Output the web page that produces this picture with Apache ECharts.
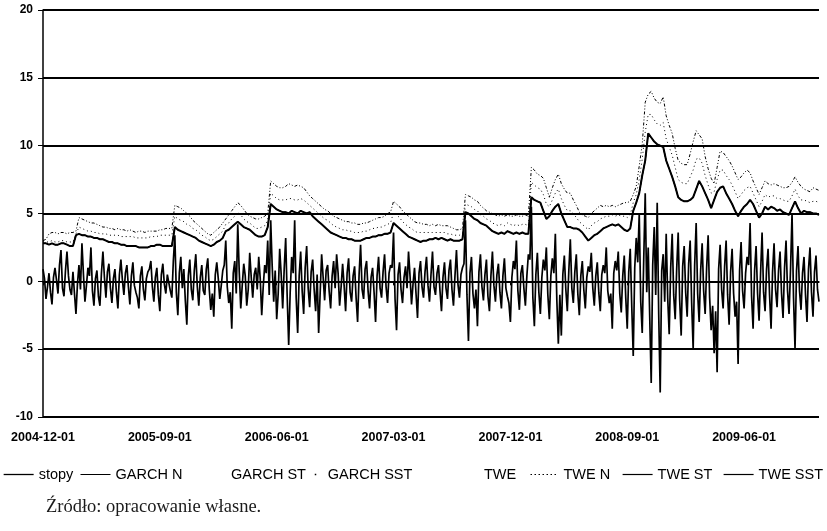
<!DOCTYPE html>
<html>
<head>
<meta charset="utf-8">
<script src="https://cdn.jsdelivr.net/npm/echarts@6/dist/echarts.min.js"></script>
<style>html,body{margin:0;padding:0;background:#fff}#c{width:827px;height:531px}</style>
</head>
<body>
<div id="c"></div>
<script>
// Tick labels on the date axis
var tickLabels = ['2004-12-01','2005-09-01','2006-06-01','2007-03-01','2007-12-01','2008-09-01','2009-06-01'];
var pointsPerTick = 78;   // half-week steps between tick dates
var pointCount = 519;

// Returns (stopy), half-week steps
var stopy = [
0.9,0.2,-1.3,-0.4,0.6,-0.8,-1.7,0.3,1.0,0.1,-0.9,1.2,2.3,-0.5,-1.1,0.8,2.2,0.4,-0.6,-1.0,
0.7,-0.9,-2.4,-0.2,1.2,-0.6,2.8,0.5,-1.5,-0.3,1.0,0.4,2.5,-0.7,-1.8,0.2,0.8,-1.1,-1.8,0.6,
2.2,0.3,-1.2,0.7,1.3,-0.5,-1.6,0.2,0.9,-0.8,-2.0,0.5,1.6,0.1,-1.0,0.6,1.2,-0.4,-1.7,0.4,
1.4,-0.3,-0.8,-1.2,-2.0,0.4,1.1,-0.6,-1.4,0.2,0.7,0.9,1.5,-0.4,-1.5,0.3,1.0,-1.0,-2.2,0.5,
1.3,-0.2,-0.9,0.5,0.6,-0.7,-1.2,1.5,3.4,-0.8,-2.5,0.6,1.8,-0.5,0.9,-1.4,-3.2,0.4,1.6,-0.6,
-1.4,0.8,2.0,-0.4,-1.8,0.3,1.2,-0.7,-1.0,0.9,1.7,-0.6,-2.1,-0.9,-2.6,0.5,1.4,0.2,-1.3,-0.3,
0.8,1.2,3.0,-0.4,-1.6,-0.8,-3.5,0.6,1.5,-0.9,4.2,0.7,-2.0,-0.3,1.3,0.4,-1.8,-0.6,2.1,0.3,
-1.2,0.5,1.0,-0.6,1.8,0.2,-2.5,-0.4,1.2,0.6,3.0,-1.0,4.5,1.1,-1.5,0.8,-2.8,-0.9,2.4,0.5,
-2.0,0.9,3.2,-1.1,-4.7,-0.8,1.8,0.6,4.5,-1.2,-3.8,0.4,2.2,-0.7,-2.4,1.0,2.6,-0.5,-1.9,0.7,
1.6,-0.6,-2.2,0.5,-3.8,-0.9,2.0,0.3,-1.4,0.8,1.2,-0.7,-2.0,0.4,1.5,-0.5,2.0,0.6,-1.8,-0.4,
1.3,-0.3,-2.2,0.6,1.7,-0.8,-1.5,0.4,1.1,-1.2,-3.0,0.5,2.7,-0.6,-1.3,0.9,1.5,-0.7,-2.0,0.3,
1.0,-0.8,-3.0,0.4,1.8,-0.5,-1.2,0.7,2.0,-0.4,-1.6,0.6,1.2,1.0,3.6,-1.3,-3.6,0.5,1.4,-0.6,
-1.6,0.3,1.1,-0.5,2.2,0.4,-1.7,-0.2,1.0,-0.9,-2.7,0.6,1.5,-0.4,-1.2,0.7,1.8,-0.3,-1.5,0.5,
2.2,-0.4,-1.0,0.6,1.2,-0.7,-2.2,0.3,1.4,-0.5,-1.3,0.8,1.6,-0.6,-1.8,0.4,2.3,-0.2,-1.2,0.5,
1.0,1.3,4.5,-1.0,-4.4,0.6,1.8,-0.9,-2.0,-0.6,-3.3,0.7,2.0,-0.4,-1.4,0.5,1.6,-1.1,-2.2,0.4,
2.2,-0.3,-1.5,0.5,1.3,-0.8,-2.0,0.4,1.7,-0.5,-1.1,-1.6,-3.0,0.3,1.5,0.9,3.0,-0.7,-2.1,0.6,
1.2,-0.5,-1.8,0.4,2.0,1.6,5.5,-1.2,-3.3,0.5,2.1,-0.8,-2.4,0.3,1.6,0.8,2.5,-1.0,-2.8,0.4,
1.7,0.6,3.5,-1.4,-4.6,-1.0,-4.0,0.5,1.9,-0.6,-2.2,0.8,3.1,-0.5,-1.6,0.7,2.0,-0.9,-2.5,0.4,
1.5,-0.6,-2.0,0.3,1.1,0.7,2.1,-0.5,-1.8,0.4,1.4,-0.8,-2.2,0.5,1.2,0.6,2.5,-0.7,-1.6,-0.9,
-3.5,0.6,1.5,0.8,2.2,-0.9,-2.3,0.4,1.9,-1.2,-3.5,0.7,2.4,-1.8,-5.5,1.0,3.2,1.4,5.0,-1.5,
-3.8,1.6,6.5,-0.8,2.5,-2.6,-7.5,1.2,4.0,-1.0,5.8,-2.4,-8.2,0.8,2.0,-1.5,3.5,-1.2,-3.9,1.0,
3.5,-1.0,-2.8,0.9,3.6,-1.4,-4.0,1.1,2.6,-0.8,-2.6,1.3,3.0,-1.6,-5.0,1.2,4.3,-0.9,-3.0,0.8,
2.8,-0.7,-2.4,1.0,3.4,-1.2,-3.6,-1.8,-5.3,-2.2,-6.7,0.9,2.7,-0.6,-2.0,1.1,3.0,-1.0,-3.2,0.7,
2.4,-0.9,-2.6,-1.5,-6.1,0.8,2.9,-0.7,-2.0,0.6,1.8,1.2,4.3,-1.1,-3.5,0.8,2.6,-0.9,-2.9,0.6,
3.6,-0.8,-2.2,0.9,2.4,-1.0,-3.5,0.7,2.8,-0.6,-1.9,0.8,2.2,-0.9,-2.7,1.0,3.0,-0.7,-2.4,0.9,
5.0,-1.2,-5.0,0.8,2.6,-0.7,-2.1,0.6,1.8,-1.0,-3.0,0.9,2.5,-0.8,-2.6,0.7,1.9,-0.6,-1.5
];

// Solid volatility line (weekly; TWE SST / TWE ST / GARCH N overlap)
var volSolid = [
2.8,2.8,2.7,2.8,2.7,2.7,2.8,2.8,2.7,2.6,
2.6,3.4,3.5,3.4,3.4,3.3,3.3,3.2,3.2,3.1,
3.1,3.0,2.9,2.9,2.8,2.8,2.7,2.7,2.6,2.6,
2.6,2.6,2.5,2.5,2.5,2.5,2.6,2.6,2.7,2.7,
2.6,2.6,2.6,2.6,4.0,3.8,3.7,3.6,3.5,3.4,
3.3,3.2,3.0,2.9,2.8,2.7,2.6,2.7,2.9,3.0,
3.2,3.7,3.8,4.0,4.2,4.4,4.2,4.0,3.9,3.8,
3.6,3.4,3.3,3.3,3.4,4.0,5.7,5.5,5.3,5.2,
5.1,5.1,5.0,5.2,5.1,5.0,5.2,5.1,5.0,5.1,
4.8,4.6,4.4,4.2,4.0,3.8,3.6,3.5,3.4,3.3,
3.2,3.2,3.1,3.1,3.0,3.0,3.0,3.1,3.2,3.2,
3.3,3.3,3.4,3.4,3.5,3.5,3.6,4.3,4.1,3.9,
3.7,3.5,3.3,3.2,3.1,3.0,2.9,3.0,3.0,3.1,
3.1,3.2,3.1,3.2,3.1,3.0,3.1,3.0,3.0,3.0,
3.1,5.1,5.0,4.8,4.6,4.5,4.3,4.2,4.1,3.9,
3.7,3.6,3.5,3.6,3.5,3.7,3.6,3.5,3.6,3.5,
3.6,3.5,3.5,6.2,6.0,5.9,5.8,5.2,4.6,4.8,
5.2,5.5,5.7,5.0,4.5,4.0,4.0,3.9,3.9,3.8,
3.6,3.3,3.0,3.2,3.4,3.5,3.7,3.9,4.0,4.1,
4.2,4.1,4.2,4.0,3.8,3.7,3.9,5.2,5.8,6.5,
7.8,8.9,10.9,10.6,10.3,10.1,10.0,9.9,8.9,8.3,
7.7,7.0,6.2,6.0,5.9,5.9,6.0,6.2,6.8,7.4,
7.0,6.5,6.0,5.4,6.0,6.6,6.9,7.0,6.5,6.1,
5.7,5.2,4.8,5.2,5.5,5.7,6.0,5.7,5.2,4.7,
5.0,5.5,5.3,5.5,5.4,5.2,5.3,5.1,5.0,4.9,
5.4,5.9,5.4,5.0,5.2,5.1,5.1,5.0,5.0,4.9
];

// Middle dotted volatility line (weekly; GARCH SST)
var volDotted = [
2.9,2.9,2.9,3.0,2.9,2.9,3.0,3.0,2.9,2.9,
2.9,3.5,4.0,3.9,3.8,3.7,3.7,3.6,3.6,3.5,
3.5,3.5,3.4,3.4,3.4,3.4,3.3,3.3,3.3,3.3,
3.3,3.2,3.2,3.2,3.2,3.2,3.3,3.3,3.3,3.4,
3.4,3.4,3.4,3.4,4.8,4.6,4.5,4.4,4.2,4.1,
3.9,3.8,3.6,3.4,3.3,3.1,3.0,3.1,3.3,3.5,
3.7,4.2,4.3,4.6,4.8,5.1,4.9,4.6,4.4,4.3,
4.1,3.9,3.9,4.0,4.1,4.5,6.5,6.3,6.1,6.0,
6.0,6.0,6.1,6.1,6.0,6.0,6.1,6.0,5.8,5.6,
5.4,5.2,5.0,4.8,4.6,4.5,4.3,4.1,4.0,3.9,
3.8,3.8,3.7,3.7,3.6,3.6,3.6,3.7,3.7,3.8,
3.9,3.9,4.0,4.0,4.1,4.2,4.3,5.1,4.9,4.7,
4.4,4.2,4.0,3.9,3.7,3.6,3.6,3.6,3.6,3.6,
3.6,3.6,3.6,3.6,3.6,3.5,3.5,3.4,3.4,3.4,
3.5,5.7,5.6,5.5,5.3,5.2,4.9,4.8,4.6,4.5,
4.3,4.2,4.1,4.2,4.1,4.3,4.2,4.1,4.2,4.1,
4.2,4.2,4.1,7.3,7.1,6.9,6.8,6.4,5.7,5.5,
6.0,6.5,6.8,6.1,5.6,5.2,5.2,5.0,4.7,4.4,
4.2,4.0,3.8,4.1,4.3,4.4,4.6,4.7,4.8,4.8,
4.9,4.8,4.9,4.8,4.8,4.7,4.9,5.8,6.4,7.5,
9.0,11.0,12.3,12.3,11.9,11.6,11.5,11.7,10.5,9.9,
9.3,8.4,7.5,7.3,7.2,7.2,7.7,8.2,9.0,9.1,
8.7,7.8,7.1,6.5,6.6,7.5,8.2,8.2,7.8,7.5,
7.1,6.6,6.1,6.4,6.7,6.9,7.0,6.5,6.0,5.5,
5.9,6.4,6.2,6.3,6.3,6.1,6.1,6.0,5.9,5.9,
6.3,6.8,6.3,6.0,6.0,5.9,5.8,5.9,5.9,5.8
];

// Upper dash-dot volatility line (weekly; TWE N)
var volUpper = [
3.0,3.1,3.5,3.6,3.6,3.5,3.6,3.6,3.5,3.6,
3.6,3.7,4.7,4.6,4.5,4.4,4.3,4.3,4.2,4.1,
4.0,4.0,3.9,3.9,3.8,3.9,3.8,3.8,3.7,3.8,
3.7,3.6,3.7,3.7,3.6,3.7,3.7,3.7,3.7,3.8,
3.8,3.9,3.9,3.9,5.6,5.5,5.4,5.2,5.0,4.8,
4.5,4.3,4.1,3.9,3.7,3.5,3.4,3.6,3.8,4.0,
4.3,4.6,4.9,5.2,5.5,5.8,5.6,5.3,5.0,4.8,
4.7,4.6,4.6,4.7,4.8,5.0,7.4,7.2,7.0,6.9,
6.9,7.0,7.2,7.1,7.0,7.1,7.0,6.9,6.6,6.3,
6.1,5.9,5.7,5.5,5.3,5.2,5.0,4.8,4.7,4.6,
4.5,4.4,4.4,4.3,4.3,4.2,4.2,4.3,4.3,4.4,
4.5,4.6,4.7,4.7,4.8,5.0,5.1,5.9,5.7,5.5,
5.2,5.0,4.8,4.6,4.4,4.3,4.3,4.2,4.2,4.1,
4.2,4.1,4.2,4.1,4.1,4.1,4.0,3.9,3.8,3.8,
3.9,6.4,6.3,6.2,6.0,5.9,5.6,5.4,5.2,5.1,
5.0,4.9,4.8,4.9,4.8,4.9,4.8,4.8,4.9,4.8,
4.8,4.9,4.8,8.4,8.2,7.9,7.8,7.6,6.9,6.2,
6.9,7.5,7.9,7.2,6.8,6.5,6.5,6.0,5.6,5.1,
4.9,4.8,4.7,5.0,5.2,5.4,5.6,5.5,5.6,5.5,
5.6,5.5,5.6,5.7,5.8,5.8,5.9,6.4,7.0,8.5,
10.1,13.2,13.8,14.0,13.5,13.2,13.1,13.6,12.2,11.5,
10.9,9.8,8.9,8.7,8.6,8.6,9.4,10.3,11.1,10.8,
10.5,9.2,8.3,7.6,7.2,8.4,9.6,9.5,9.2,8.9,
8.5,8.0,7.5,7.7,8.0,8.2,8.0,7.4,6.9,6.4,
6.9,7.4,7.2,7.1,7.2,7.1,7.0,6.9,6.9,7.0,
7.3,7.7,7.3,7.0,6.8,6.7,6.6,6.9,6.8,6.7
];

// Series -> value arrays (several series overlap in the picture)
var garchN = volSolid, garchST = volDotted, garchSST = volDotted;
var twe = volSolid, tweN = volUpper, tweST = volSolid, tweSST = volSolid;

// weekly arrays sit on every second half-week category
function weekly(arr){ return arr.map(function(v,i){ return [2*i, v]; }); }

// Category dates between the tick dates
function fmt(d){var m=d.getUTCMonth()+1, day=d.getUTCDate();return d.getUTCFullYear()+'-'+(m<10?'0':'')+m+'-'+(day<10?'0':'')+day;}
var DAY = 86400000;
var categories = [];
for (var k = 0; k < pointCount; k++) {
  var seg = Math.floor(k / pointsPerTick), off = k % pointsPerTick, d;
  if (seg < tickLabels.length - 1) {
    var a = Date.parse(tickLabels[seg] + 'T00:00:00Z'), b = Date.parse(tickLabels[seg+1] + 'T00:00:00Z');
    d = new Date(a + Math.round(off * (b - a) / pointsPerTick / DAY) * DAY);
  } else {
    var a2 = Date.parse(tickLabels[tickLabels.length-1] + 'T00:00:00Z');
    d = new Date(a2 + Math.round((k - pointsPerTick*(tickLabels.length-1)) * 3.5) * DAY);
  }
  categories.push(off === 0 && seg < tickLabels.length ? tickLabels[seg] : fmt(d));
}

var chart = echarts.init(document.getElementById('c'), null, {renderer:'canvas'});
function line(name, data, ls, z){
  return {name:name, type:'line', data:data, symbol:'none', showSymbol:false, animation:false,
    itemStyle:{color:'#000'}, lineStyle:ls, z:z||2, emphasis:{disabled:true}};
}
var legendPos = [['stopy',3],['GARCH N',80],['GARCH ST',195],['GARCH SST',292],['TWE',448],['TWE N',528],['TWE ST',622],['TWE SST',723]];
var legends = legendPos.map(function(p){
  var lg = {data:[p[0]], left:p[1], top:467, itemWidth:30, itemHeight:12, padding:0,
    itemStyle:{opacity:0},
    textStyle:{fontFamily:'Liberation Sans', fontSize:14.5, color:'#000'}, selectedMode:false};
  if (p[0] === 'GARCH SST') lg.lineStyle = {type:[1.5,60], dashOffset:-22, width:1.5};
  if (p[0] === 'TWE N') lg.lineStyle = {type:[1.5,2.5], width:1};
  if (p[0] === 'GARCH N') lg.lineStyle = {width:1};
  if (p[0] === 'TWE ST' || p[0] === 'TWE SST') lg.lineStyle = {width:1.2};
  if (p[0] === 'stopy') lg.lineStyle = {width:1.3};
  return lg;
});
chart.setOption({
  backgroundColor:'#fff',
  animation:false,
  grid:{left:43, right:8, top:10, bottom:114},
  legend: legends,
  title:{text:'Źródło: opracowanie własne.', left:41, top:493,
    textStyle:{fontFamily:'Liberation Serif', fontSize:18.5, fontWeight:'normal', color:'#1a1a1a'}},
  xAxis:{type:'category', data:categories, boundaryGap:false,
    axisLine:{lineStyle:{color:'#000', width:1.5}},
    axisTick:{interval:pointsPerTick-1, length:4, lineStyle:{color:'#000'}},
    axisLabel:{interval:pointsPerTick-1, margin:14, color:'#000', fontFamily:'Liberation Sans', fontWeight:'bold', fontSize:12.5},
    splitLine:{show:false}},
  yAxis:{type:'value', min:-10, max:20, interval:5,
    axisLine:{show:true, lineStyle:{color:'#000', width:1.5}},
    axisTick:{show:true, length:5, lineStyle:{color:'#000'}},
    axisLabel:{margin:10, color:'#000', fontFamily:'Liberation Sans', fontWeight:'bold', fontSize:12},
    splitLine:{lineStyle:{color:'#000', width:1.8}}},
  series:[
    line('stopy', stopy, {color:'#000', width:1.7}, 5),
    line('GARCH N', weekly(garchN), {color:'#000', width:1}, 3),
    line('GARCH ST', weekly(garchST), {color:'#000', width:1, opacity:0}, 1),
    line('GARCH SST', weekly(garchSST), {color:'#000', width:1, type:[1,3]}, 3),
    line('TWE', weekly(twe), {color:'#000', width:1, opacity:0}, 1),
    line('TWE N', weekly(tweN), {color:'#000', width:1, type:[3,2,1,2,1,2]}, 3),
    line('TWE ST', weekly(tweST), {color:'#000', width:1}, 3),
    line('TWE SST', weekly(tweSST), {color:'#000', width:2}, 3)
  ]
});
</script>
</body>
</html>
